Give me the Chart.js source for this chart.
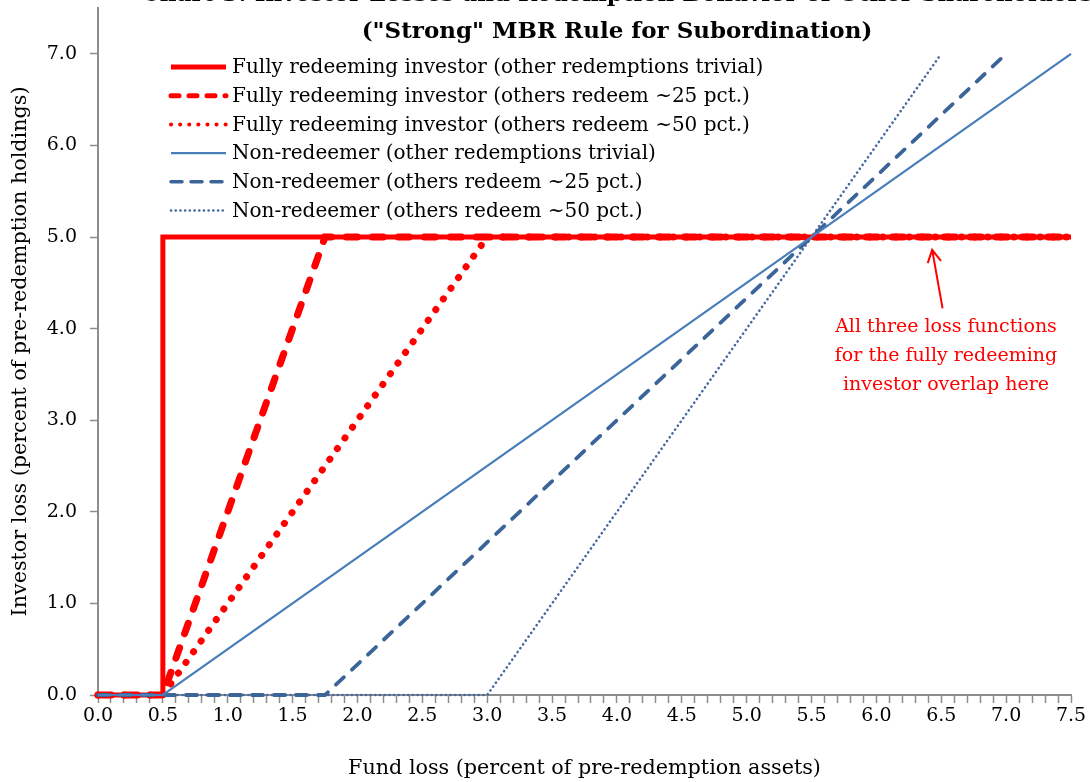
<!DOCTYPE html>
<html>
<head>
<meta charset="utf-8">
<script src="https://cdn.jsdelivr.net/npm/chart.js@4.4.1/dist/chart.umd.min.js"></script>
<style>
  html, body { margin: 0; padding: 0; background: #fff; overflow: hidden; }
  canvas { display: block; }
</style>
</head>
<body>
<canvas id="chart" width="1090" height="782"></canvas>
<script>
// series: fund loss (x) and investor loss (y), percent
const fullTrivialX = [0, 0.5, 0.5, 7.5];
const fullTrivialY = [0, 0, 5.0, 5.0];
const full25X = [0, 0.5, 1.75, 7.5];
const full25Y = [0, 0, 5.0, 5.0];
const full50X = [0, 0.5, 3.0, 7.5];
const full50Y = [0, 0, 5.0, 5.0];
const nonTrivialX = [0, 0.5, 7.5];
const nonTrivialY = [0, 0, 7.0];
const non25X = [0, 1.75, 7.0];
const non25Y = [0, 0, 7.0];
const non50X = [0, 3.0, 6.5];
const non50Y = [0, 0, 7.0];

const seriesLabels = [
  "Fully redeeming investor (other redemptions trivial)",
  "Fully redeeming investor (others redeem ~25 pct.)",
  "Fully redeeming investor (others redeem ~50 pct.)",
  "Non-redeemer (other redemptions trivial)",
  "Non-redeemer (others redeem ~25 pct.)",
  "Non-redeemer (others redeem ~50 pct.)"
];
const titleLines = [
  "Chart 3: Investor Losses and Redemption Behavior of Other Shareholders",
  "(\"Strong\" MBR Rule for Subordination)"
];
const noteLines = [
  "All three loss functions",
  "for the fully redeeming",
  "investor overlap here"
];
const xTitle = "Fund loss (percent of pre-redemption assets)";
const yTitle = "Investor loss (percent of pre-redemption holdings)";

const serif = "'DejaVu Serif', serif";
const RED = "#ff0000";

function pts(xs, ys) {
  return xs.map((x, i) => ({ x: x, y: ys[i] }));
}

const datasets = [
  { data: pts(fullTrivialX, fullTrivialY), borderColor: RED, borderWidth: 5, borderDash: [], borderCapStyle: "butt", order: 3 },
  { data: pts(full25X, full25Y), borderColor: RED, borderWidth: 7, borderDash: [11, 15], borderCapStyle: "round", order: 1 },
  { data: pts(full50X, full50Y), borderColor: RED, borderWidth: 7, borderDash: [0.1, 13], borderCapStyle: "round", order: 2 },
  { data: pts(nonTrivialX, nonTrivialY), borderColor: "#4a7ebb", borderWidth: 2.2, borderDash: [], borderCapStyle: "butt", order: 0 },
  { data: pts(non25X, non25Y), borderColor: "#3b6498", borderWidth: 3.8, borderDash: [11, 11], borderCapStyle: "round", order: 0 },
  { data: pts(non50X, non50Y), borderColor: "#44689f", borderWidth: 2.6, borderDash: [0.1, 4.6], borderCapStyle: "round", order: 0 }
].map((d, i) => Object.assign(d, {
  label: seriesLabels[i],
  pointRadius: 0,
  fill: false,
  tension: 0,
  clip: false
}));

// legend sample styles (a bit lighter than the plotted lines)
const legendWidths = [5, 5, 4, 2.2, 3.5, 2.6];
const legendDashes = [[], [8, 10], [0.1, 9], [], [11, 9], [0.1, 4.6]];

// title, legend and note drawn on the canvas
const extras = {
  id: "extras",
  afterDraw(chart) {
    const ctx = chart.ctx;
    const xs = chart.scales.x, ys = chart.scales.y;
    ctx.save();

    ctx.fillStyle = "#000";
    ctx.textAlign = "center";
    ctx.textBaseline = "alphabetic";
    ctx.font = "bold 23px " + serif;
    ctx.fillText(titleLines[0], 617, 1);
    ctx.fillText(titleLines[1], 617, 38);

    // legend
    ctx.font = "20px " + serif;
    ctx.textAlign = "left";
    ctx.textBaseline = "middle";
    chart.data.datasets.forEach((ds, i) => {
      const y = 67 + i * 28.7;
      ctx.save();
      ctx.strokeStyle = ds.borderColor;
      ctx.lineWidth = legendWidths[i];
      ctx.setLineDash(legendDashes[i]);
      ctx.lineCap = ds.borderCapStyle;
      ctx.beginPath();
      ctx.moveTo(171, y);
      ctx.lineTo(226, y);
      ctx.stroke();
      ctx.restore();
      ctx.fillStyle = "#000";
      ctx.fillText(ds.label, 232, y + 1);
    });

    // arrow and note
    const tipX = xs.getPixelForValue(6.43), tipY = ys.getPixelForValue(4.86);
    const tailX = xs.getPixelForValue(6.51), tailY = ys.getPixelForValue(4.22);
    const ang = Math.atan2(tipY - tailY, tipX - tailX);
    ctx.strokeStyle = RED;
    ctx.lineWidth = 2;
    ctx.beginPath();
    ctx.moveTo(tailX, tailY);
    ctx.lineTo(tipX, tipY);
    ctx.moveTo(tipX - 14 * Math.cos(ang - 0.5), tipY - 14 * Math.sin(ang - 0.5));
    ctx.lineTo(tipX, tipY);
    ctx.lineTo(tipX - 14 * Math.cos(ang + 0.5), tipY - 14 * Math.sin(ang + 0.5));
    ctx.stroke();

    ctx.fillStyle = RED;
    ctx.textAlign = "center";
    ctx.font = "19px " + serif;
    noteLines.forEach((t, i) => ctx.fillText(t, 946, 327 + i * 29));
    ctx.restore();
  }
};

const axisGray = "#8c8c8c";

new Chart(document.getElementById("chart"), {
  type: "line",
  data: { datasets: datasets },
  plugins: [extras],
  options: {
    responsive: false,
    animation: false,
    devicePixelRatio: 1,
    layout: { padding: { left: 0, right: 19, top: 8, bottom: 0 } },
    plugins: {
      legend: { display: false },
      title: { display: false },
      tooltip: { enabled: false }
    },
    scales: {
      x: {
        type: "linear",
        min: 0,
        max: 7.5,
        afterFit(scale) { scale.height = 87; scale.paddingLeft = 0; scale.paddingRight = 0; },
        border: { color: axisGray, width: 2 },
        grid: { drawOnChartArea: false, color: axisGray, tickLength: 8, tickWidth: 1.5 },
        ticks: {
          stepSize: 0.1,
          autoSkip: false,
          maxRotation: 0,
          maxTicksLimit: 200,
          padding: 2,
          color: "#000",
          font: { family: serif, size: 19 },
          callback: v => Math.abs(v * 2 - Math.round(v * 2)) < 1e-6 ? v.toFixed(1) : ""
        },
        title: {
          display: true,
          text: xTitle,
          color: "#000",
          font: { family: serif, size: 20.7 },
          padding: { top: 0, bottom: 1 }
        }
      },
      y: {
        min: 0,
        max: 7.5,
        afterFit(scale) { scale.width = 98; scale.paddingTop = 0; scale.paddingBottom = 0; },
        border: { color: axisGray, width: 2 },
        grid: { drawOnChartArea: false, color: axisGray, tickLength: 8, tickWidth: 1.5 },
        ticks: {
          stepSize: 1,
          includeBounds: false,
          padding: 13,
          color: "#000",
          font: { family: serif, size: 19 },
          callback: v => v.toFixed(1)
        },
        title: {
          display: true,
          text: yTitle,
          color: "#000",
          font: { family: serif, size: 20.7 },
          padding: { top: 8, bottom: 0 }
        }
      }
    }
  }
});
</script>
</body>
</html>
